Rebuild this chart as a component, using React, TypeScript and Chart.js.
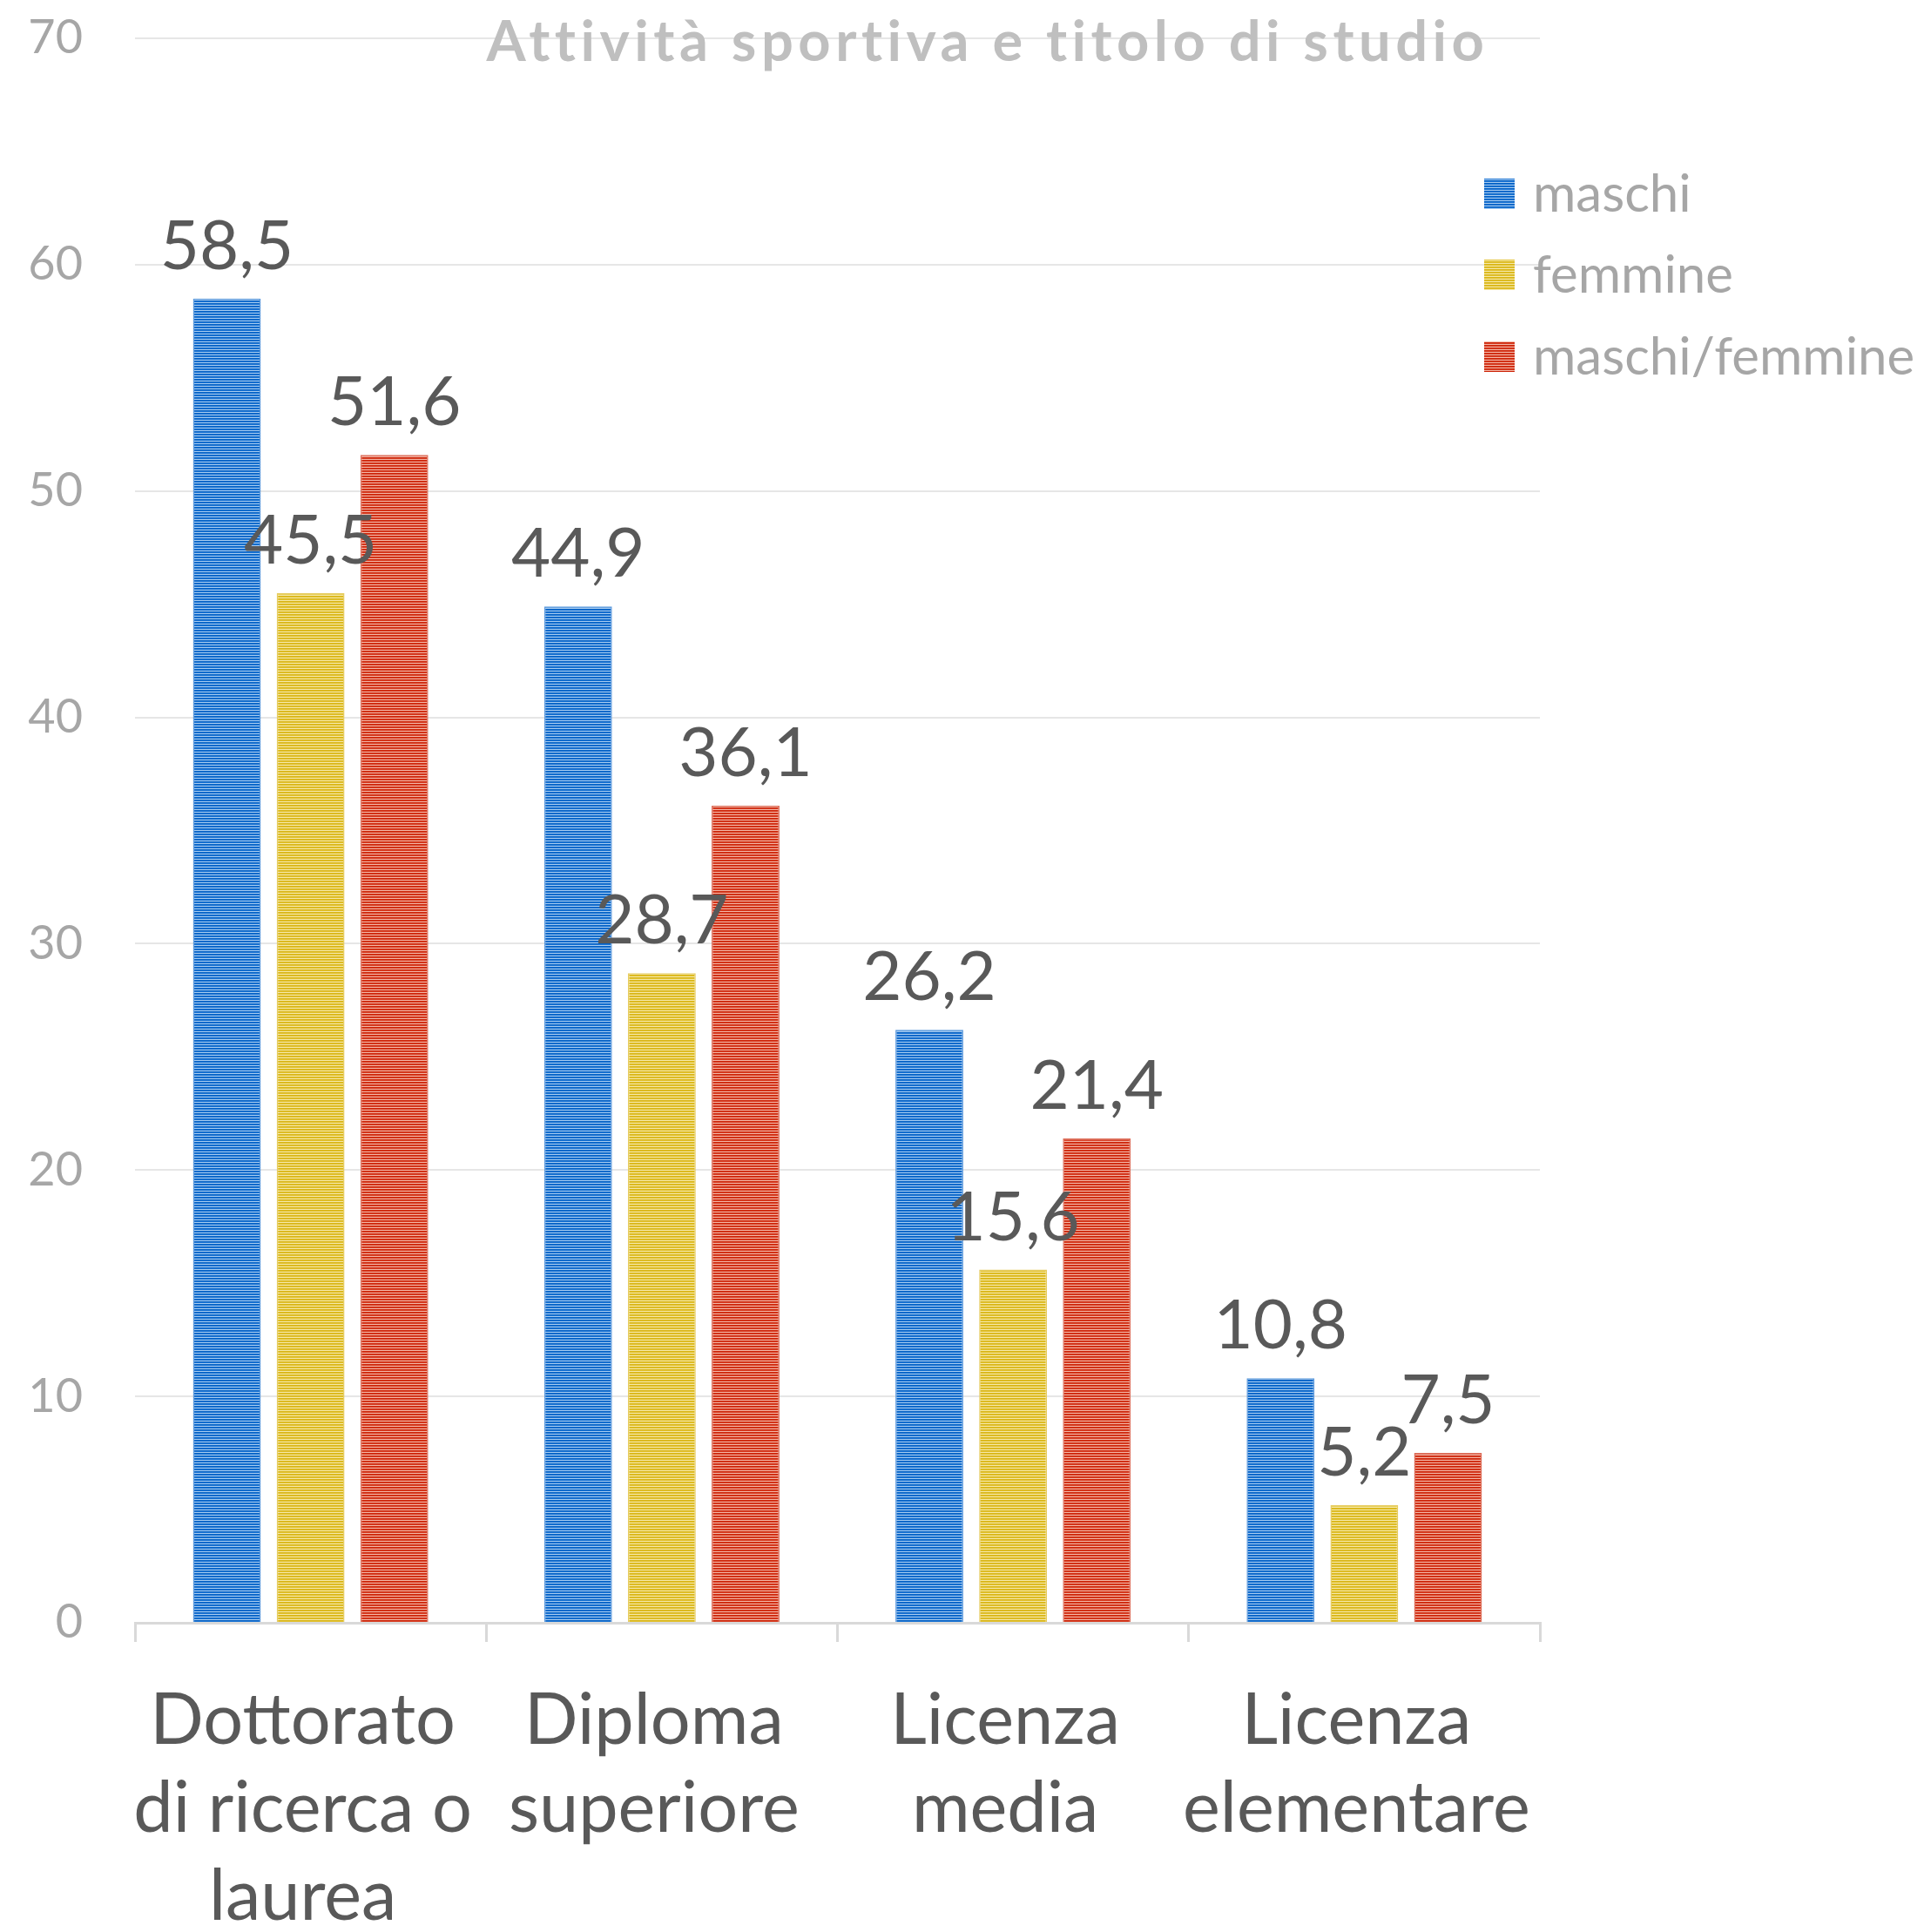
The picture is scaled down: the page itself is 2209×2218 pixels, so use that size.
import React, { useEffect, useRef } from 'react';
import { Chart, registerables } from 'chart.js';

Chart.register(...registerables);

const TITLE = 'Attività sportiva e titolo di studio';
const categories: string[][] = [
  ['Dottorato', 'di ricerca o', 'laurea'],
  ['Diploma', 'superiore'],
  ['Licenza', 'media'],
  ['Licenza', 'elementare'],
];
const seriesNames = ['maschi', 'femmine', 'maschi/femmine'];
const maschi = [58.5, 44.9, 26.2, 10.8];
const femmine = [45.5, 28.7, 15.6, 5.2];
const maschiFemmine = [51.6, 36.1, 21.4, 7.5];
const Y_MIN = 0;
const Y_MAX = 70;
const Y_STEP = 10;

const FONT = 'Lato';

function makeStripe(dark: string, mid: string, light: string): CanvasPattern | string {
  const c = document.createElement('canvas');
  c.width = 4;
  c.height = 3;
  const g = c.getContext('2d');
  if (!g) return dark;
  g.fillStyle = dark;
  g.fillRect(0, 0, 4, 1);
  g.fillStyle = mid;
  g.fillRect(0, 1, 4, 1);
  g.fillStyle = light;
  g.fillRect(0, 2, 4, 1);
  const p = g.createPattern(c, 'repeat');
  return p || dark;
}

const fmt = (v: number) => v.toFixed(1).replace('.', ',');

export default function App() {
  const ref = useRef<HTMLCanvasElement | null>(null);

  useEffect(() => {
    if (!ref.current) return;
    const patterns = [
      makeStripe('#0360c4', '#1f76d4', '#a6cbf0'),
      makeStripe('#d8b414', '#e2c232', '#f5e8a8'),
      makeStripe('#cc2206', '#d8432a', '#f3b6a6'),
    ];
    const borders = ['#5a98dc', '#e6cc60', '#dc6a55'];
    const values = [maschi, femmine, maschiFemmine];

    const bgPlugin = {
      id: 'bg',
      beforeDraw(chart: any) {
        const { ctx, width, height } = chart;
        ctx.save();
        ctx.fillStyle = '#ffffff';
        ctx.fillRect(0, 0, width, height);
        ctx.restore();
      },
    };

    const labelsPlugin = {
      id: 'valueLabels',
      afterDatasetsDraw(chart: any) {
        const ctx = chart.ctx;
        ctx.save();
        ctx.font = `78px ${FONT}`;
        ctx.fillStyle = '#595959';
        ctx.textAlign = 'center';
        ctx.textBaseline = 'alphabetic';
        chart.data.datasets.forEach((ds: any, i: number) => {
          const meta = chart.getDatasetMeta(i);
          meta.data.forEach((bar: any, j: number) => {
            ctx.fillText(fmt(ds.data[j]), bar.x, bar.y - 34);
          });
        });
        ctx.restore();
      },
    };

    const titleLegendPlugin = {
      id: 'titleLegend',
      afterDraw(chart: any) {
        const ctx = chart.ctx;
        const area = chart.chartArea;
        ctx.save();
        // title
        ctx.font = `bold 65px ${FONT}`;
        ctx.fillStyle = '#bfbfbf';
        ctx.textAlign = 'center';
        ctx.textBaseline = 'alphabetic';
        try {
          (ctx as any).letterSpacing = '5.5px';
        } catch (e) {
          /* ignore */
        }
        ctx.fillText(TITLE, 1134, 70);
        try {
          (ctx as any).letterSpacing = '0px';
        } catch (e) {
          /* ignore */
        }
        // legend
        ctx.font = `60px ${FONT}`;
        ctx.textAlign = 'left';
        ctx.textBaseline = 'middle';
        const x0 = area.right - 64;
        const ys = [222, 315, 409];
        chart.data.datasets.forEach((ds: any, i: number) => {
          const cy = ys[i];
          ctx.fillStyle = ds.backgroundColor;
          ctx.fillRect(x0, cy - 17, 35, 35);
          ctx.fillStyle = '#a6a6a6';
          ctx.fillText(ds.label, x0 + 56, cy + 2);
        });
        ctx.restore();
      },
    };

    const chart = new Chart(ref.current, {
      type: 'bar',
      data: {
        labels: categories,
        datasets: seriesNames.map((name, i) => ({
          label: name,
          data: values[i],
          backgroundColor: patterns[i] as any,
          borderColor: borders[i],
          borderWidth: 1.5,
          categoryPercentage: 0.715,
          barPercentage: 0.81,
        })),
      },
      options: {
        responsive: false,
        animation: false,
        devicePixelRatio: 1,
        layout: { padding: { top: 44, right: 441, left: 0, bottom: 0 } },
        plugins: {
          legend: { display: false },
          title: { display: false },
          tooltip: { enabled: false },
        },
        scales: {
          x: {
            grid: {
              offset: true,
              drawOnChartArea: false,
              drawTicks: true,
              tickLength: 22,
              color: '#d9d9d9',
              lineWidth: 3,
            },
            border: { display: true, color: '#d9d9d9', width: 3 },
            ticks: {
              font: { family: FONT, size: 81, lineHeight: 1.25 },
              color: '#595959',
              padding: 40,
              labelOffset: -9,
              maxRotation: 0,
              autoSkip: false,
            },
            afterFit: (s: any) => {
              s.height = 355;
              s.paddingLeft = 0;
              s.paddingRight = 0;
            },
          },
          y: {
            min: Y_MIN,
            max: Y_MAX,
            ticks: {
              stepSize: Y_STEP,
              font: { family: FONT, size: 54 },
              color: '#a6a6a6',
              padding: 60,
            },
            grid: { color: '#e6e6e6', lineWidth: 2, drawTicks: false },
            border: { display: false },
            afterFit: (s: any) => {
              s.width = 155;
              s.paddingTop = 0;
              s.paddingBottom = 0;
            },
          },
        },
      },
      plugins: [bgPlugin, labelsPlugin, titleLegendPlugin],
    });

    return () => {
      chart.destroy();
    };
  }, []);

  return (
    <div style={{ position: 'fixed', left: 0, top: 0, width: 2209, height: 2218, background: '#fff' }}>
      <canvas ref={ref} width={2209} height={2218} style={{ display: 'block', width: 2209, height: 2218 }} />
    </div>
  );
}
